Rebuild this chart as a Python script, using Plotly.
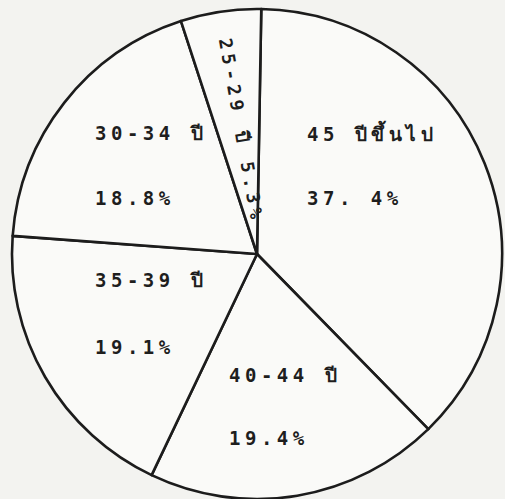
import plotly.graph_objects as go

W, H = 505, 499

# slices, clockwise from 12 o'clock
age_groups = ['45 ปีขึ้นไป', '40-44 ปี', '35-39 ปี', '30-34 ปี', '25-29 ปี']
percents = [37.4, 19.4, 19.1, 18.8, 5.3]
pct_labels = ['37. 4%', '19.4%', '19.1%', '18.8%', '5.3%']

# label placement in pixels (left edge x, group line y, percent line y)
label_pos = [(305, 132, 198), (227, 375, 438), (93, 280, 347), (93, 133, 198)]

FONT = 'DejaVu Sans Mono, Noto Sans, monospace'
SPACED = '<span style="letter-spacing:%spx">%s</span>'

fig = go.Figure(go.Pie(
  labels = age_groups,
  values = percents,
  sort = False,
  direction = 'clockwise',
  rotation = 1,
  textinfo = 'none',
  hoverinfo = 'label+value',
  showlegend = False,
  marker = dict(colors = ['#fafaf8'] * len(percents), line = dict(color = '#1c1c1c', width = 2.6)),
  domain = dict(x = [11 / W, 503 / W], y = [0, 490 / H]),
))

annotations = []
for name, pct, (px_, y1, y2) in zip(age_groups, pct_labels, label_pos):
  for txt, py in ((name, y1), (pct, y2)):
    annotations.append(dict(
      text = SPACED % (4.5, txt), x = px_ / W, y = 1 - py / H, xref = 'paper', yref = 'paper',
      xanchor = 'left', yanchor = 'middle', showarrow = False,
      font = dict(family = FONT, size = 19, color = '#1e1e1e', weight = 'bold'),
    ))

# the thin 25-29 slice carries its label along the slice
annotations.append(dict(
  text = SPACED % (4.8, age_groups[-1] + ' ' + pct_labels[-1]), x = 241 / W, y = 1 - 131 / H,
  xref = 'paper', yref = 'paper', xanchor = 'center', yanchor = 'middle',
  showarrow = False, textangle = 80,
  font = dict(family = FONT, size = 18, color = '#1e1e1e', weight = 'bold'),
))

fig.update_layout(
  width = W, height = H,
  margin = dict(l = 0, r = 0, t = 0, b = 0),
  paper_bgcolor = '#f3f3f0',
  plot_bgcolor = '#f3f3f0',
  annotations = annotations,
)

fig.write_html("out.html", config = {'displayModeBar': False},
               post_script = "document.body.style.margin='0';document.body.style.overflow='hidden';")
